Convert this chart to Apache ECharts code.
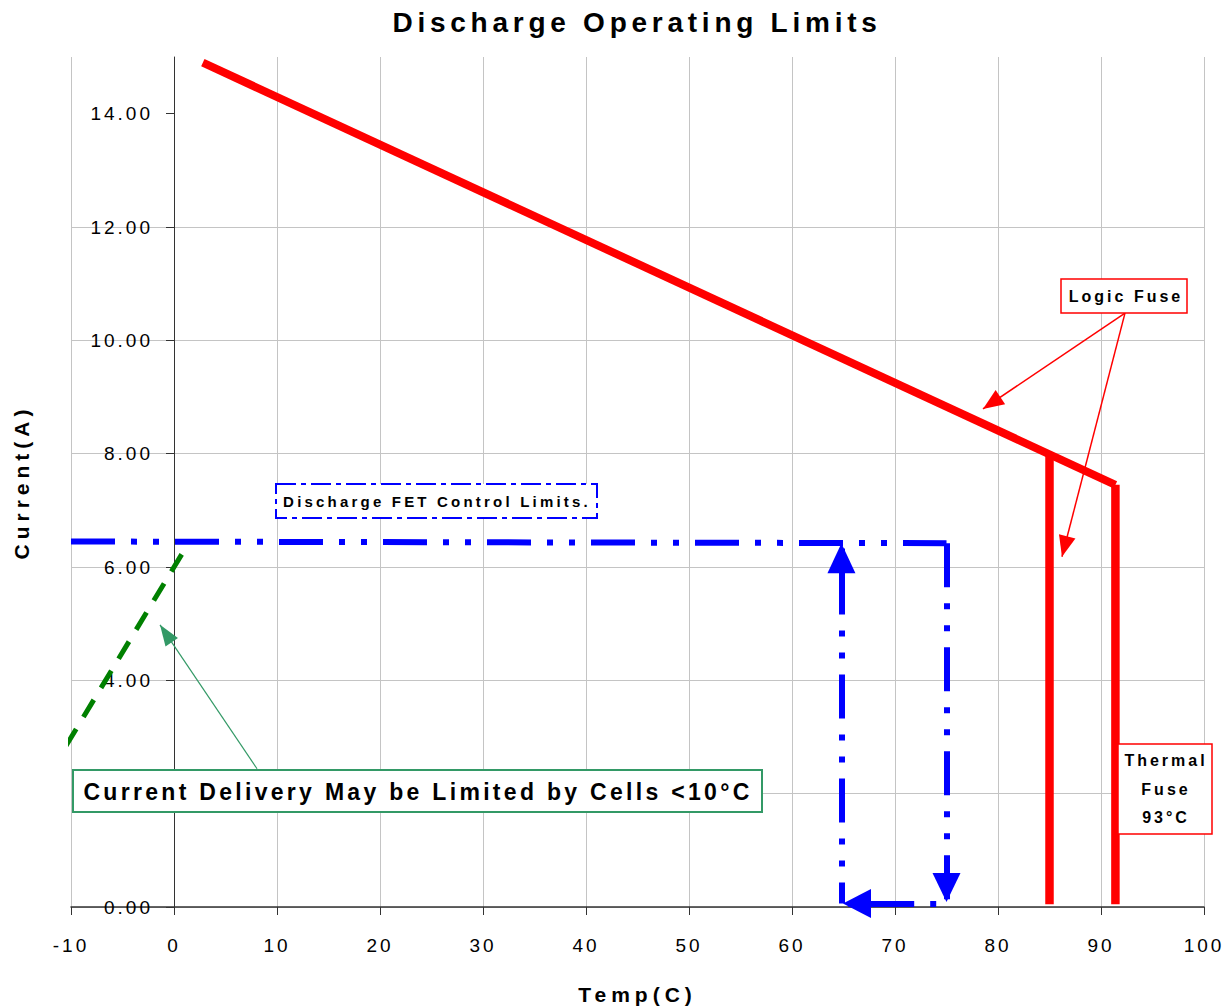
<!DOCTYPE html>
<html>
<head>
<meta charset="utf-8">
<title>Discharge Operating Limits</title>
<script src="https://cdn.jsdelivr.net/npm/echarts@6/dist/echarts.min.js"></script>
<style>
html, body { margin: 0; padding: 0; background: #ffffff; }
#chart { width: 1231px; height: 1008px; }
/* letter spacing of the original (applied to SVG text by font size) */
#chart text[style*="28px"] { letter-spacing: 4.75px; }
#chart text[style*="21px"] { letter-spacing: 5px; }
#chart text[style*="23px"] { letter-spacing: 3.3px; }
#chart text[style*="19px"] { letter-spacing: 3px; }
#chart text[style*="16px"] { letter-spacing: 3px; }
#chart text[style*="15px"] { letter-spacing: 3.2px; }
</style>
</head>
<body>
<div id="chart"></div>
<script>
// ---------- data ----------
const tempTicks = [-10, 0, 10, 20, 30, 40, 50, 60, 70, 80, 90, 100];
const currentTicks = [0, 2, 4, 6, 8, 10, 12, 14];
// the 2.00 label is hidden behind the annotation box in the original
const currentLabels = [0, 4, 6, 8, 10, 12, 14];

// Logic fuse limit line (diagonal)
const logicLimitTemp = [2.8, 91.4];
const logicLimitCurrent = [14.9, 7.45];
// Logic fuse vertical at 85 C
const logicFuseTemp = [85, 85];
const logicFuseCurrent = [7.98, 0.05];
// Thermal fuse vertical
const thermalFuseTemp = [91.4, 91.4];
const thermalFuseCurrent = [7.45, 0.05];

// Discharge FET control limits
const fetTemp = [-10, 75];
const fetCurrent = [6.45, 6.42];
const fetDownTemp = [75, 75];
const fetDownCurrent = [6.42, 0.09];
const fetLeftTemp = [74, 64.95];
const fetLeftCurrent = [0.06, 0.06];
const fetUpTemp = [64.8, 64.8];
const fetUpCurrent = [0.06, 6.42];

// Cold cell limitation (green dashed)
const coldTemp = [-10.5, 1.4];
const coldCurrent = [2.84, 6.42];

// Annotation arrows (tail -> tip), data coordinates
const coldArrowTemp = [8.06, -1.36];
const coldArrowCurrent = [2.44, 4.98];
const logicArrowTailTemp = 92.33, logicArrowTailCurrent = 10.48;
const logicArrowTipTemp = [78.54, 86.21];
const logicArrowTipCurrent = [8.79, 6.18];

// ---------- helpers ----------
const pts = (xs, ys) => xs.map((x, i) => [x, ys[i]]);
const FONT = '"Liberation Sans", Arial, sans-serif';
const BLUE = '#0000ff', RED = '#ff0000', GREEN = '#008000', SEA = '#339966';
const fetDash = [44, 16, 6, 16, 6, 16];

function arrow(x0, y0, x1, y1, color, width, dash, size, dashOffset) {
  return [
    { coord: [x0, y0], symbol: 'none',
      lineStyle: { color: color, width: width, type: dash, dashOffset: dashOffset || 0 } },
    { coord: [x1, y1], symbol: 'triangle', symbolSize: size, symbolOffset: [0, size[1] / 2] }
  ];
}
const markBase = {
  silent: true,
  animation: false,
  label: { show: false },
  emphasis: { disabled: true },
  symbol: ['none', 'triangle']
};

const chart = echarts.init(document.getElementById('chart'), null, { renderer: 'svg' });

const option = {
  animation: false,
  backgroundColor: '#ffffff',
  textStyle: { fontFamily: FONT },
  title: {
    text: 'Discharge Operating Limits',
    left: 632,
    top: 3,
    textAlign: 'center',
    textStyle: { fontSize: 28, fontWeight: 'bold', color: '#000', fontFamily: FONT }
  },
  grid: { left: 71, right: 27, top: 57, bottom: 101, containLabel: false, outerBoundsMode: 'none' },
  xAxis: {
    type: 'value',
    min: -10, max: 100, interval: 10,
    name: 'Temp(C)',
    nameLocation: 'middle',
    nameGap: 77,
    nameTextStyle: { fontSize: 21, fontWeight: 'bold', color: '#000', fontFamily: FONT },
    axisLine: { show: true, lineStyle: { color: '#333', width: 1.5 } },
    axisTick: { show: true, length: 8, lineStyle: { color: '#333', width: 1 } },
    axisLabel: {
      margin: 29, fontSize: 19, color: '#000', fontFamily: FONT,
      customValues: tempTicks,
      formatter: v => String(v)
    },
    splitLine: { show: true, lineStyle: { color: '#c4c4c4', width: 1 } }
  },
  yAxis: {
    type: 'value',
    min: 0, max: 15, interval: 2,
    // the vertical axis crosses the temperature axis at 0 C
    offset: -103,
    name: 'Current(A)',
    nameLocation: 'middle',
    nameGap: 142,
    nameTextStyle: { fontSize: 21, fontWeight: 'bold', color: '#000', fontFamily: FONT },
    axisLine: { show: true, onZero: false, lineStyle: { color: '#333', width: 1 } },
    axisTick: { show: true, length: 8, customValues: currentTicks, lineStyle: { color: '#333', width: 1 } },
    axisLabel: {
      margin: 21, fontSize: 19, color: '#000', fontFamily: FONT,
      customValues: currentLabels,
      formatter: v => v.toFixed(2)
    },
    splitLine: { show: true, showMaxLine: false, lineStyle: { color: '#c4c4c4', width: 1 } }
  },
  series: [
    {
      name: 'Cold limit', type: 'line', data: pts(coldTemp, coldCurrent),
      showSymbol: false, symbol: 'none', silent: true, z: 3, clip: false,
      lineStyle: { color: GREEN, width: 5, type: [20, 14] }
    },
    {
      name: 'FET limit', type: 'line', data: pts(fetTemp, fetCurrent),
      showSymbol: false, symbol: 'none', silent: true, z: 4,
      lineStyle: { color: BLUE, width: 6, type: fetDash },
      markLine: Object.assign({}, markBase, {
        data: [
          arrow(fetDownTemp[0], fetDownCurrent[0], fetDownTemp[1], fetDownCurrent[1], BLUE, 6, fetDash, [28, 29], 0),
          arrow(fetLeftTemp[0], fetLeftCurrent[0], fetLeftTemp[1], fetLeftCurrent[1], BLUE, 6, fetDash, [29, 28], 82),
          arrow(fetUpTemp[0], fetUpCurrent[0], fetUpTemp[1], fetUpCurrent[1], BLUE, 6, fetDash, [28, 30], 23)
        ]
      })
    },
    {
      name: 'Logic fuse limit', type: 'line', data: pts(logicLimitTemp, logicLimitCurrent),
      showSymbol: false, symbol: 'none', silent: true, z: 5,
      lineStyle: { color: RED, width: 8 }
    },
    {
      name: 'Logic fuse', type: 'line', data: pts(logicFuseTemp, logicFuseCurrent),
      showSymbol: false, symbol: 'none', silent: true, z: 5,
      lineStyle: { color: RED, width: 8.5 }
    },
    {
      name: 'Thermal fuse', type: 'line', data: pts(thermalFuseTemp, thermalFuseCurrent),
      showSymbol: false, symbol: 'none', silent: true, z: 5,
      lineStyle: { color: RED, width: 8.5 },
      markLine: Object.assign({}, markBase, {
        data: [
          arrow(logicArrowTailTemp, logicArrowTailCurrent, logicArrowTipTemp[0], logicArrowTipCurrent[0], RED, 1.5, 'solid', [17, 21]),
          arrow(logicArrowTailTemp, logicArrowTailCurrent, logicArrowTipTemp[1], logicArrowTipCurrent[1], RED, 1.5, 'solid', [17, 21])
        ]
      })
    },
    {
      name: 'Cold annotation', type: 'line', data: [],
      showSymbol: false, symbol: 'none', silent: true, z: 6,
      lineStyle: { color: SEA },
      markLine: Object.assign({}, markBase, {
        data: [
          arrow(coldArrowTemp[0], coldArrowCurrent[0], coldArrowTemp[1], coldArrowCurrent[1], SEA, 1.2, 'solid', [15, 21])
        ]
      })
    }
  ],
  graphic: [
    { type: 'rect', z: 20, shape: { x: 73, y: 770, width: 689, height: 42 },
      style: { fill: '#ffffff', stroke: SEA, lineWidth: 2 } },
    { type: 'text', z: 21, x: 418, y: 792,
      style: { text: 'Current Delivery May be Limited by Cells <10°C', fontSize: 23, fontWeight: 'bold',
               fontFamily: FONT, fill: '#000', textAlign: 'center', textVerticalAlign: 'middle' } },

    { type: 'rect', z: 20, shape: { x: 276, y: 484, width: 321, height: 34 },
      style: { fill: '#ffffff', stroke: BLUE, lineWidth: 2, lineDash: [20, 5, 5, 5] } },
    { type: 'text', z: 21, x: 437, y: 501,
      style: { text: 'Discharge FET Control Limits.', fontSize: 15, fontWeight: 'bold',
               fontFamily: FONT, fill: '#000', textAlign: 'center', textVerticalAlign: 'middle' } },

    { type: 'rect', z: 20, shape: { x: 1061, y: 279, width: 126, height: 34 },
      style: { fill: '#ffffff', stroke: RED, lineWidth: 1.5 } },
    { type: 'text', z: 21, x: 1126, y: 296,
      style: { text: 'Logic Fuse', fontSize: 16, fontWeight: 'bold',
               fontFamily: FONT, fill: '#000', textAlign: 'center', textVerticalAlign: 'middle' } },

    { type: 'rect', z: 20, shape: { x: 1118, y: 744, width: 94, height: 90 },
      style: { fill: '#ffffff', stroke: RED, lineWidth: 1.5 } },
    { type: 'text', z: 21, x: 1166, y: 789,
      style: { text: 'Thermal\nFuse\n93°C', fontSize: 16, fontWeight: 'bold', lineHeight: 28.5,
               fontFamily: FONT, fill: '#000', textAlign: 'center', textVerticalAlign: 'middle' } }
  ]
};
chart.setOption(option);
</script>
</body>
</html>
